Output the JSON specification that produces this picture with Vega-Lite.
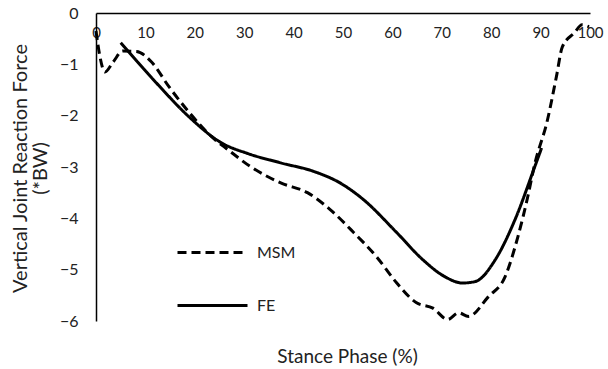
{
  "$schema": "https://vega.github.io/schema/vega-lite/v6.json",
  "autosize": "none",
  "width": 494,
  "height": 308,
  "padding": {"left": 96, "top": 13, "right": 18, "bottom": 48},
  "background": "white",
  "config": {
    "font": "Lato",
    "view": {"stroke": null},
    "axis": {"grid": false, "ticks": false, "domainColor": "black", "domainWidth": 1.5, "labelColor": "#222", "labelFont": "Lato", "labelFontSize": 16, "titleFont": "Lato", "titleFontWeight": "normal", "titleFontSize": 19, "titleColor": "#222"}
  },
  "data": {"values": [
    {"s": "MSM", "x": 0, "y": -0.35},
    {"s": "MSM", "x": 0.8, "y": -0.85},
    {"s": "MSM", "x": 1.8, "y": -1.15},
    {"s": "MSM", "x": 3.5, "y": -0.95},
    {"s": "MSM", "x": 5.4, "y": -0.74},
    {"s": "MSM", "x": 8.2, "y": -0.75},
    {"s": "MSM", "x": 11.2, "y": -0.95},
    {"s": "MSM", "x": 14.8, "y": -1.44},
    {"s": "MSM", "x": 18.8, "y": -1.93},
    {"s": "MSM", "x": 23.4, "y": -2.41},
    {"s": "MSM", "x": 26.8, "y": -2.67},
    {"s": "MSM", "x": 31.4, "y": -3.0},
    {"s": "MSM", "x": 37.4, "y": -3.31},
    {"s": "MSM", "x": 42.8, "y": -3.5},
    {"s": "MSM", "x": 47.4, "y": -3.83},
    {"s": "MSM", "x": 52.2, "y": -4.28},
    {"s": "MSM", "x": 56.8, "y": -4.75},
    {"s": "MSM", "x": 60.8, "y": -5.25},
    {"s": "MSM", "x": 64.8, "y": -5.64},
    {"s": "MSM", "x": 68.2, "y": -5.75},
    {"s": "MSM", "x": 71.2, "y": -5.97},
    {"s": "MSM", "x": 73.4, "y": -5.84},
    {"s": "MSM", "x": 75.4, "y": -5.91},
    {"s": "MSM", "x": 79.4, "y": -5.53},
    {"s": "MSM", "x": 82.8, "y": -5.14},
    {"s": "MSM", "x": 85.4, "y": -4.36},
    {"s": "MSM", "x": 87.4, "y": -3.58},
    {"s": "MSM", "x": 88.8, "y": -2.95},
    {"s": "MSM", "x": 91.4, "y": -2.08},
    {"s": "MSM", "x": 93.2, "y": -1.24},
    {"s": "MSM", "x": 94.4, "y": -0.66},
    {"s": "MSM", "x": 96.8, "y": -0.39},
    {"s": "MSM", "x": 98.4, "y": -0.23},
    {"s": "MSM", "x": 99.8, "y": -0.27},
    {"s": "FE", "x": 5.0, "y": -0.58},
    {"s": "FE", "x": 12.2, "y": -1.36},
    {"s": "FE", "x": 18.8, "y": -2.02},
    {"s": "FE", "x": 25.4, "y": -2.53},
    {"s": "FE", "x": 30.8, "y": -2.74},
    {"s": "FE", "x": 37.4, "y": -2.92},
    {"s": "FE", "x": 44.2, "y": -3.09},
    {"s": "FE", "x": 49.4, "y": -3.31},
    {"s": "FE", "x": 54.2, "y": -3.64},
    {"s": "FE", "x": 60.8, "y": -4.27},
    {"s": "FE", "x": 66.2, "y": -4.81},
    {"s": "FE", "x": 70.5, "y": -5.13},
    {"s": "FE", "x": 74.2, "y": -5.26},
    {"s": "FE", "x": 76.8, "y": -5.23},
    {"s": "FE", "x": 80.8, "y": -4.81},
    {"s": "FE", "x": 84.8, "y": -4.03},
    {"s": "FE", "x": 88.8, "y": -3.0},
    {"s": "FE", "x": 90.2, "y": -2.63}
  ]},
  "mark": {"type": "line", "interpolate": "monotone", "strokeWidth": 3, "color": "black"},
  "encoding": {
    "x": {"field": "x", "type": "quantitative", "scale": {"domain": [0, 100], "nice": false},
      "axis": {"orient": "bottom", "offset": -308, "values": [0,10,20,30,40,50,60,70,80,90,100], "labelFontSize": 15, "labelPadding": 12, "labelFlush": false,
        "title": "Stance Phase (%)", "titleX": 251, "titleY": 343, "titleBaseline": "middle", "titleAnchor": null}},
    "y": {"field": "y", "type": "quantitative", "scale": {"domain": [-6, 0], "nice": false},
      "axis": {"values": [0,-1,-2,-3,-4,-5,-6], "labelPadding": 18,
        "title": ["Vertical Joint Reaction Force", "(*BW)"], "titleFontSize": 20, "titleX": -76, "titleY": 155, "titleBaseline": "middle", "titleLineHeight": 20, "titleAlign": "center", "titleAngle": -90}},
    "strokeDash": {"field": "s", "type": "nominal", "scale": {"domain": ["MSM", "FE"], "range": [[9, 5], [1, 0]]},
      "legend": {"orient": "none", "legendX": 80, "legendY": 203, "title": null, "symbolType": "stroke", "symbolSize": 4900, "symbolStrokeWidth": 3, "symbolStrokeColor": "black", "labelFontSize": 16, "labelFont": "Lato", "labelColor": "#222", "labelOffset": 8, "rowPadding": 8}}
  }
}
